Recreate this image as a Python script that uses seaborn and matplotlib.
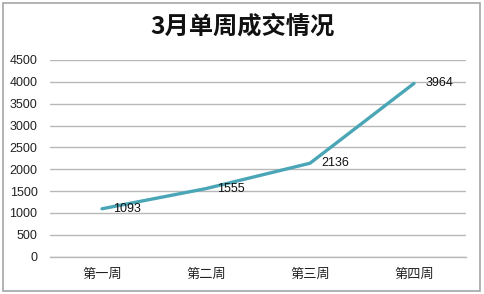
import matplotlib
matplotlib.use("Agg")
import matplotlib.pyplot as plt
import seaborn as sns
import pandas as pd
from matplotlib.patches import Rectangle

weeks = ["第一周", "第二周", "第三周", "第四周"]
values = [1093, 1555, 2136, 3964]
y_ticks = [0, 500, 1000, 1500, 2000, 2500, 3000, 3500, 4000, 4500]
title = "3月单周成交情况"

sns.set_theme(style="white")
plt.rcParams['font.family'] = ['Noto Sans CJK SC', 'DejaVu Sans']

df = pd.DataFrame({"week": weeks, "value": values})

fig = plt.figure(figsize=(4.84, 2.94), dpi=100)
ax = fig.add_axes([50/484, 1-256.5/294, 416/484, 196.5/294])

sns.lineplot(data=df, x="week", y="value", ax=ax, color="#4AA6B6", linewidth=2.4, sort=False)

ax.set_xlim(-0.5, len(weeks) - 0.5)
ax.set_ylim(0, 4500)
ax.set_yticks(y_ticks)
ax.set_yticklabels([str(v) for v in y_ticks], fontsize=9, family=['Liberation Sans', 'DejaVu Sans'])
ax.set_xticks(range(len(weeks)))
ax.set_xticklabels(weeks, fontsize=9.5)
ax.tick_params(axis='both', length=0, colors="#222222")
ax.tick_params(axis='y', pad=9)
ax.tick_params(axis='x', pad=8)
ax.set_xlabel("")
ax.set_ylabel("")
ax.grid(axis='y', color="#b8b8b8", linewidth=1.0)
ax.grid(axis='x', visible=False)
for s in ["left", "right", "top"]:
    ax.spines[s].set_visible(False)
ax.spines["bottom"].set_color("#b8b8b8")
ax.spines["bottom"].set_linewidth(1.0)
ax.set_axisbelow(True)

for i, v in enumerate(values):
    ax.annotate(str(v), xy=(i, v), xytext=(8, 0), textcoords="offset points",
                ha="left", va="center", fontsize=9, color="#111111",
                family=['Liberation Sans', 'DejaVu Sans'])

fig.text(0.5, 1 - 27/294, title, ha="center", va="center", fontsize=17.5,
         fontweight="bold", color="#111111")

fig.patches.append(Rectangle((3/484, 3/294), 477/484, 288/294, transform=fig.transFigure,
                             fill=False, edgecolor="#a6a6a6", linewidth=1.2))

fig.savefig("out.png", dpi=100)
